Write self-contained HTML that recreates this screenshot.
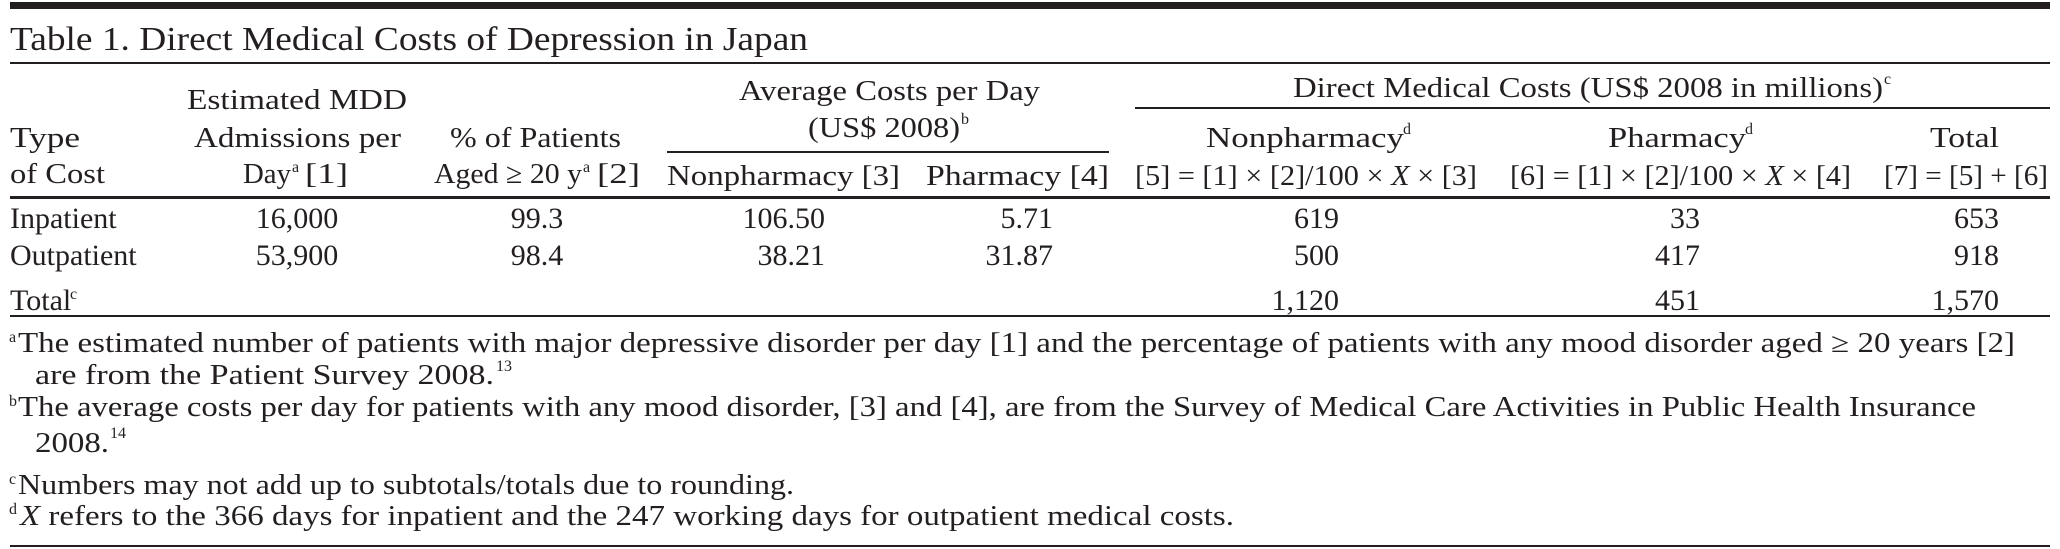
<!DOCTYPE html>
<html><head><meta charset="utf-8"><style>
html,body{margin:0;padding:0;background:#fff;}
svg{display:block;}
text{font-family:"Liberation Serif",serif;fill:#231f20;}
</style></head><body>
<svg width="2060" height="549" viewBox="0 0 2060 549">
<g fill="#231f20">
<rect x="10" y="2" width="2040" height="7"/>
<rect x="10" y="62" width="2040" height="2"/>
<rect x="1135" y="107" width="915" height="2"/>
<rect x="667" y="151" width="442" height="2"/>
<rect x="10" y="196" width="2040" height="3"/>
<rect x="10" y="315" width="2040" height="2"/>
<rect x="10" y="545" width="2040" height="2"/>
</g>
<text x="10" y="50" font-size="34" textLength="798" lengthAdjust="spacingAndGlyphs">Table 1. Direct Medical Costs of Depression in Japan</text>

<g font-size="29">
<text x="10" y="147" textLength="70" lengthAdjust="spacingAndGlyphs">Type</text>
<text x="10" y="183" textLength="95" lengthAdjust="spacingAndGlyphs">of Cost</text>
<text x="187" y="109" textLength="220" lengthAdjust="spacingAndGlyphs">Estimated MDD</text>
<text x="194" y="147" textLength="207" lengthAdjust="spacingAndGlyphs">Admissions per</text>
<text x="243" y="183" textLength="48" lengthAdjust="spacingAndGlyphs">Day</text>
<text x="292" y="172" font-size="16">a</text>
<text x="305" y="183" textLength="43" lengthAdjust="spacingAndGlyphs">[1]</text>
<text x="450" y="147" textLength="171" lengthAdjust="spacingAndGlyphs">% of Patients</text>
<text x="434" y="183" textLength="148" lengthAdjust="spacingAndGlyphs">Aged ≥ 20 y</text>
<text x="583" y="172" font-size="16">a</text>
<text x="597" y="183" textLength="43" lengthAdjust="spacingAndGlyphs">[2]</text>
<text x="739" y="100" textLength="301" lengthAdjust="spacingAndGlyphs">Average Costs per Day</text>
<text x="808" y="137" textLength="152" lengthAdjust="spacingAndGlyphs">(US$ 2008)</text>
<text x="961" y="124" font-size="16">b</text>
<text x="667" y="185" textLength="233" lengthAdjust="spacingAndGlyphs">Nonpharmacy [3]</text>
<text x="926" y="185" textLength="183" lengthAdjust="spacingAndGlyphs">Pharmacy [4]</text>
<text x="1293" y="97" textLength="590" lengthAdjust="spacingAndGlyphs">Direct Medical Costs (US$ 2008 in millions)</text>
<text x="1884" y="84" font-size="16">c</text>
<text x="1206" y="147" textLength="198" lengthAdjust="spacingAndGlyphs">Nonpharmacy</text>
<text x="1403" y="134" font-size="16">d</text>
<text x="1608" y="147" textLength="138" lengthAdjust="spacingAndGlyphs">Pharmacy</text>
<text x="1745" y="134" font-size="16">d</text>
<text x="1930" y="147" textLength="69" lengthAdjust="spacingAndGlyphs">Total</text>
<text x="1135" y="185" textLength="342" lengthAdjust="spacingAndGlyphs">[5] = [1] × [2]/100 × <tspan font-style="italic">X</tspan> × [3]</text>
<text x="1510" y="185" textLength="341" lengthAdjust="spacingAndGlyphs">[6] = [1] × [2]/100 × <tspan font-style="italic">X</tspan> × [4]</text>
<text x="1884" y="185" textLength="164" lengthAdjust="spacingAndGlyphs">[7] = [5] + [6]</text>
</g>

<g id="body" font-size="30"></g>

<g font-size="28">
<text x="9" y="342" font-size="16">a</text>
<text x="18" y="352" textLength="1997" lengthAdjust="spacingAndGlyphs">The estimated number of patients with major depressive disorder per day [1] and the percentage of patients with any mood disorder aged ≥ 20 years [2]</text>
<text x="35" y="384" textLength="459" lengthAdjust="spacingAndGlyphs">are from the Patient Survey 2008.</text>
<text x="496" y="371" font-size="16">13</text>
<text x="9" y="406" font-size="16">b</text>
<text x="18" y="416" textLength="1958" lengthAdjust="spacingAndGlyphs">The average costs per day for patients with any mood disorder, [3] and [4], are from the Survey of Medical Care Activities in Public Health Insurance</text>
<text x="35" y="452" textLength="74" lengthAdjust="spacingAndGlyphs">2008.</text>
<text x="110" y="438" font-size="16">14</text>
<text x="9" y="484" font-size="16">c</text>
<text x="18" y="494" textLength="776" lengthAdjust="spacingAndGlyphs">Numbers may not add up to subtotals/totals due to rounding.</text>
<text x="9" y="514" font-size="16">d</text>
<text x="20" y="525" textLength="1214" lengthAdjust="spacingAndGlyphs"><tspan font-style="italic">X</tspan> refers to the 366 days for inpatient and the 247 working days for outpatient medical costs.</text>
</g>
</svg>
<script>
const rowLabels = ["Inpatient", "Outpatient", "Total"];
const admissions = ["16,000", "53,900", ""];
const pctAged = ["99.3", "98.4", ""];
const nonpharmDay = ["106.50", "38.21", ""];
const pharmDay = ["5.71", "31.87", ""];
const nonpharmCost = ["619", "500", "1,120"];
const pharmCost = ["33", "417", "451"];
const totalCost = ["653", "918", "1,570"];

const rowY = [228, 265, 310];
const cols = [
  {vals: admissions, x: 297, anchor: "middle", name: "admissions-cell"},
  {vals: pctAged, x: 537, anchor: "middle", name: "pct-aged-cell"},
  {vals: nonpharmDay, x: 825, anchor: "end", name: "nonpharmacy-day-cell"},
  {vals: pharmDay, x: 1053, anchor: "end", name: "pharmacy-day-cell"},
  {vals: nonpharmCost, x: 1339, anchor: "end", name: "nonpharmacy-cost-cell"},
  {vals: pharmCost, x: 1700, anchor: "end", name: "pharmacy-cost-cell"},
  {vals: totalCost, x: 1999, anchor: "end", name: "total-cost-cell"}
];
const NS = "http://www.w3.org/2000/svg";
const body = document.getElementById("body");
rowLabels.forEach((lab, i) => {
  const t = document.createElementNS(NS, "text");
  t.setAttribute("x", 10);
  t.setAttribute("y", rowY[i]);
  t.textContent = lab;
  
  
  body.appendChild(t);
  if (lab === "Total") {
    const s = document.createElementNS(NS, "text");
    s.setAttribute("x", 70);
    s.setAttribute("y", rowY[i] - 11);
    s.setAttribute("font-size", "16");
    s.textContent = "c";
    
    
    body.appendChild(s);
  }
  cols.forEach(c => {
    if (!c.vals[i]) return;
    const e = document.createElementNS(NS, "text");
    e.setAttribute("x", c.x);
    e.setAttribute("y", rowY[i]);
    e.setAttribute("text-anchor", c.anchor);
    e.textContent = c.vals[i];
    
    
    body.appendChild(e);
  });
});
</script>
</body></html>
